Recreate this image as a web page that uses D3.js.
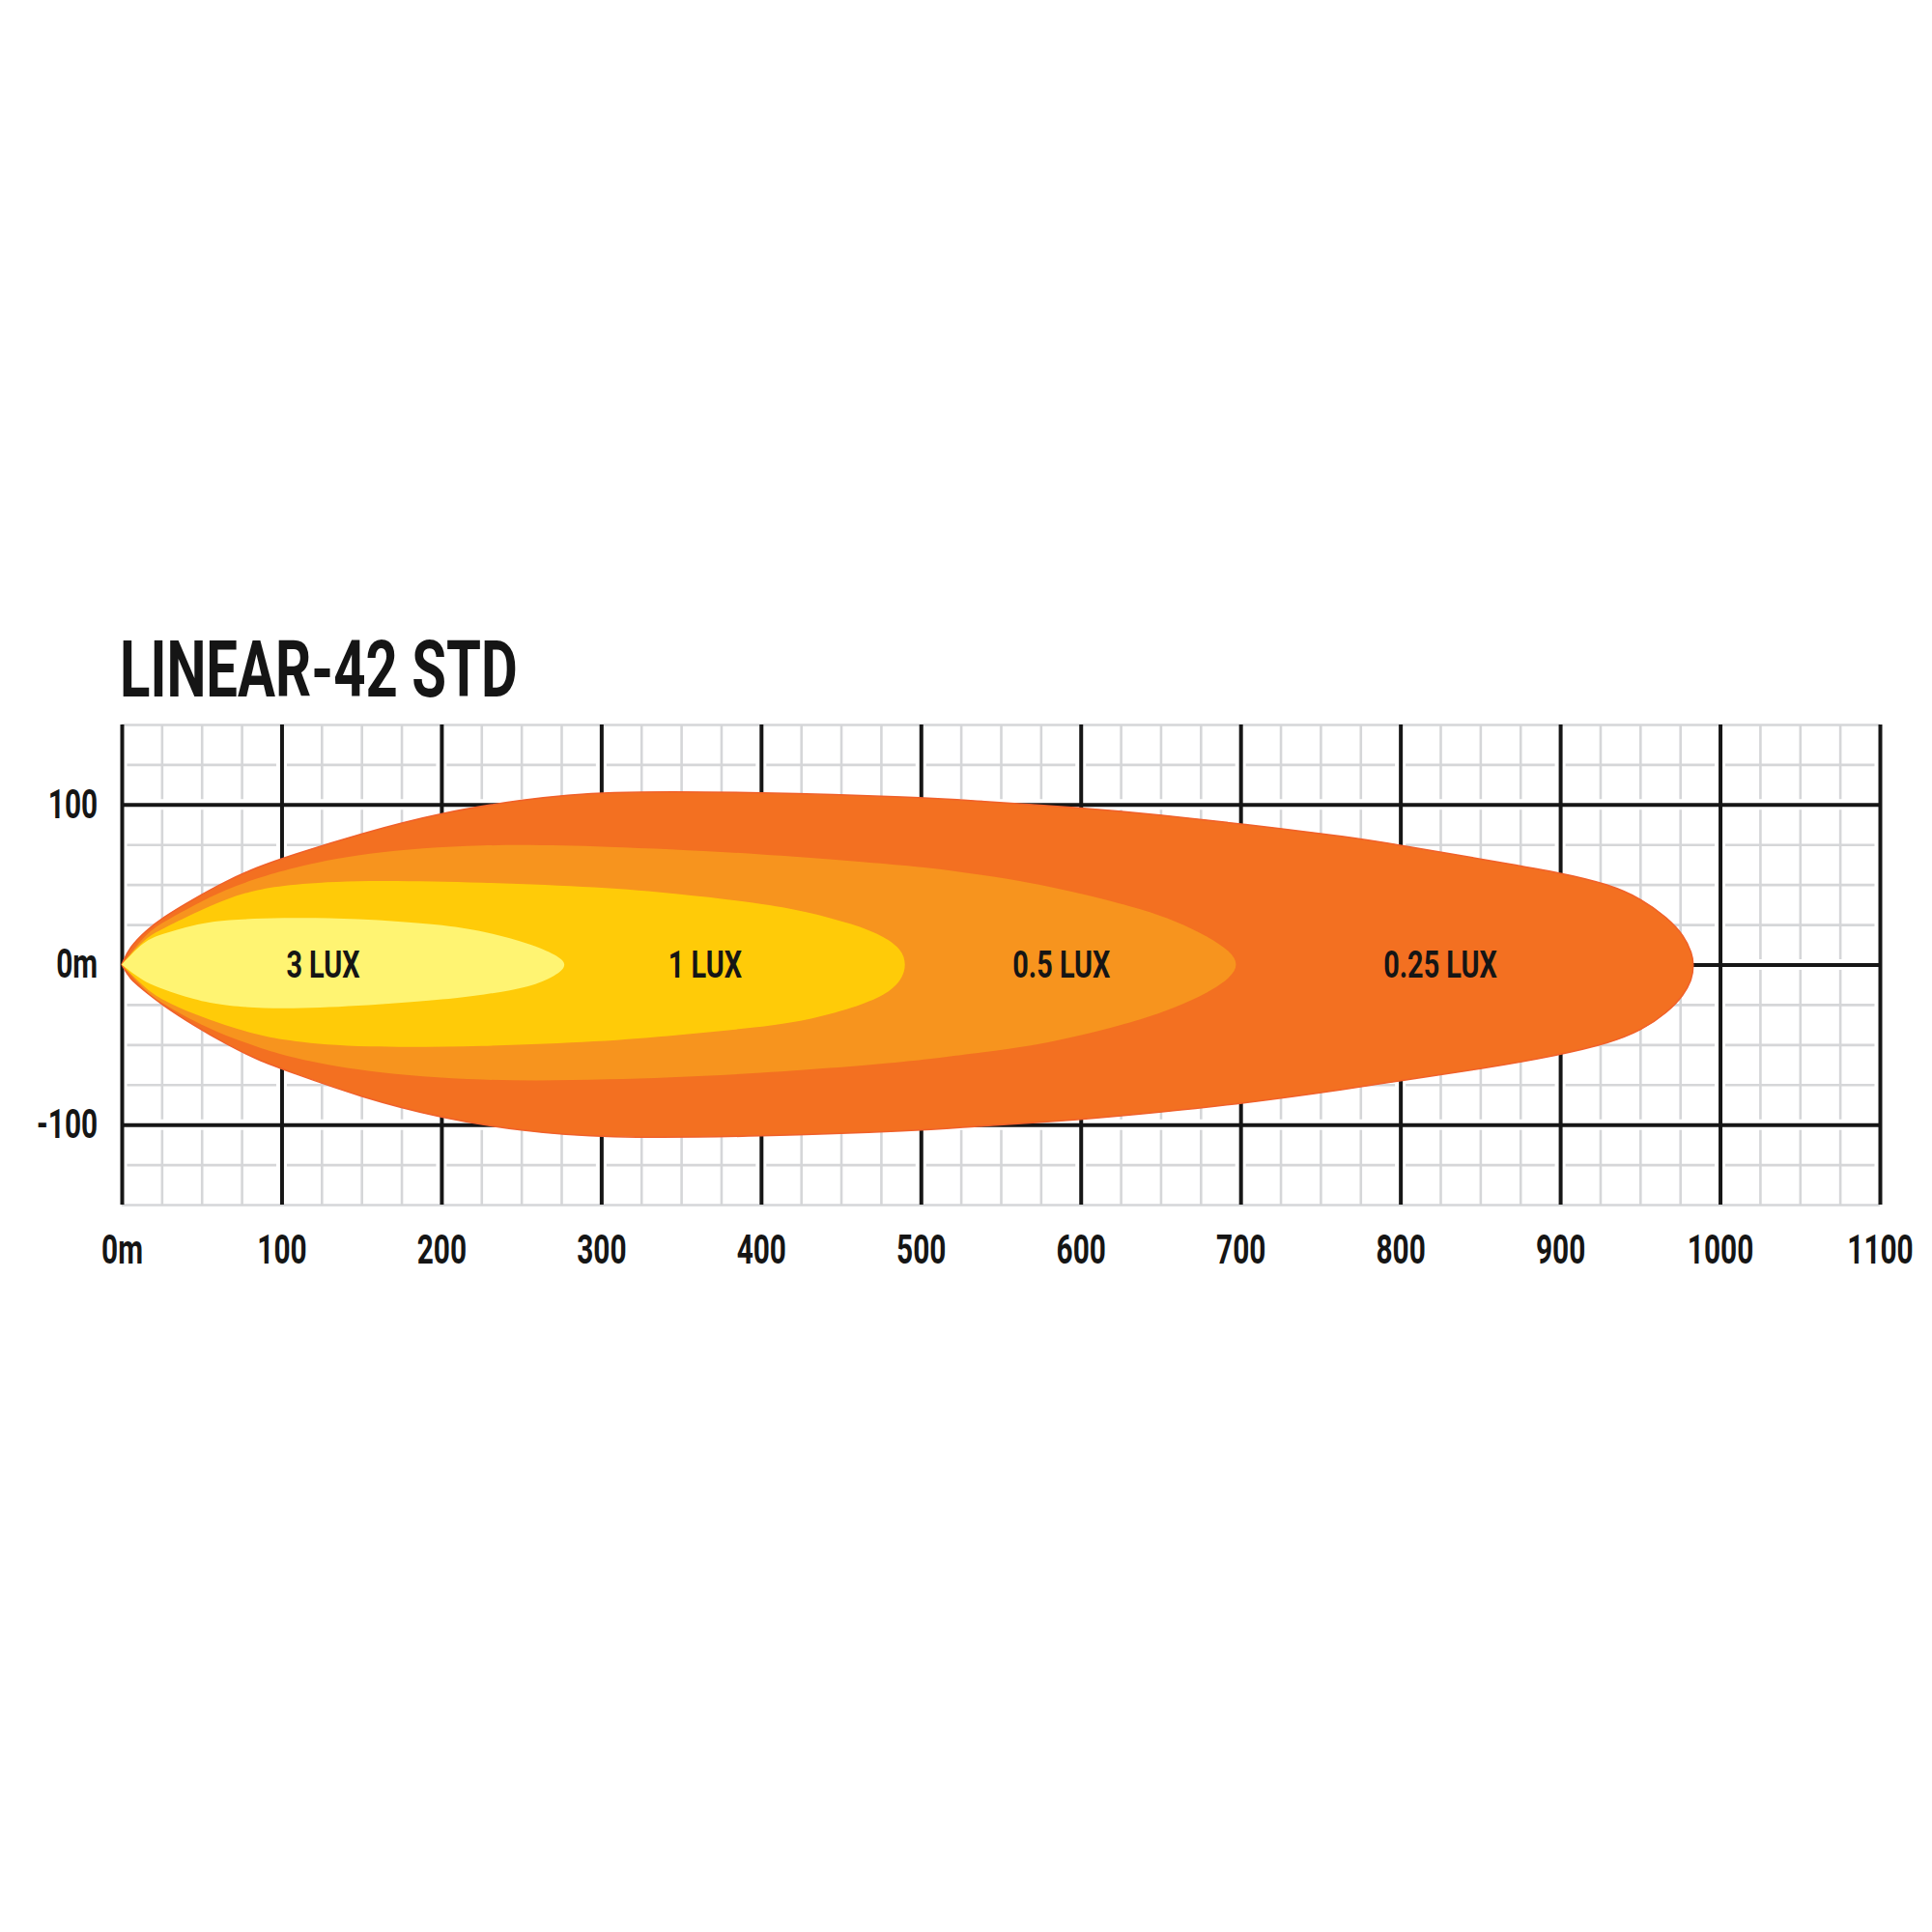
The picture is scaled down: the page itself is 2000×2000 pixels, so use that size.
<!DOCTYPE html>
<html>
<head>
<meta charset="utf-8">
<script src="https://cdn.jsdelivr.net/npm/d3@7"></script>
<style>
    body { margin: 0; background: #fff; }
    .txt { font-family: Roboto, "Liberation Sans", sans-serif; font-weight: 700; fill: #151515; }
</style>
</head>
<body>
<div id="chart"></div>
<script>
// axis ticks and labels
const xTicks = [0, 100, 200, 300, 400, 500, 600, 700, 800, 900, 1000, 1100];
const xTickLabels = ["0m", "100", "200", "300", "400", "500", "600", "700", "800", "900", "1000", "1100"];
const yTicks = [100, 0, -100];
const yTickLabels = ["100", "0m", "-100"];

// lux zones, outermost first
const luxNames = ["0.25 LUX", "0.5 LUX", "1 LUX", "3 LUX"];
const luxLabelDist = [825, 588, 365, 126];

// 0.25 lux outline (m ahead / m left (+) or right (-))
const lux025Dist = [0, 5, 15, 25, 45, 65, 85, 105, 150, 200, 250, 300, 400, 500, 528, 600, 649, 700, 770, 800, 850, 900, 931, 951, 967, 977.5, 982.5, 983.6];
const lux025Upper = [0, 11, 21, 29, 41, 52, 61, 68, 82, 95, 103, 108.5, 107.7, 104.5, 102.7, 98, 93.6, 88, 79.5, 74.5, 66, 57.5, 50, 41, 29.3, 18.2, 7, 0];
const lux025Lower = [0, -9, -17, -25, -38, -49.5, -59.6, -67, -83, -96, -104, -108.5, -107.5, -103.8, -101.5, -97, -92.4, -87, -77.3, -72.5, -65.3, -56.5, -49, -41.1, -30, -19, -9, 0];

// 0.5 lux outline
const lux05Dist = [0, 15, 25, 45, 65, 85, 105, 150, 226, 300, 400, 500, 528, 569, 609, 639, 659, 680, 694, 698.7];
const lux05Upper = [0, 19, 26, 37, 47, 54, 60, 70, 75.5, 74, 69.5, 61.3, 57.5, 51.4, 42.4, 34.3, 27.3, 17.5, 8, 0];
const lux05Lower = [0, -17, -24, -35.4, -44.5, -51.5, -58, -67, -73, -72.3, -68.3, -60.2, -56, -51.2, -42.2, -34.1, -27, -17.5, -8, 0];

// 1 lux outline
const lux1Dist = [0, 15, 25, 45, 65, 85, 105, 150, 226, 300, 347, 400, 428, 458, 478, 488, 491];
const lux1Upper = [0, 17, 22, 32, 41, 47, 50, 53, 51.4, 48.4, 44.4, 38.4, 33.3, 25.3, 17.2, 9.2, 0];
const lux1Lower = [0, -15, -22, -31, -38, -44, -48, -52, -51.2, -48.2, -44.2, -39.1, -35.1, -27, -19, -10, 0];

// 3 lux outline
const lux3Dist = [0, 14, 25, 45, 65, 100, 147, 200, 226, 256, 272, 279.4];
const lux3Upper = [0, 15, 19, 25, 28, 29.4, 29, 25, 21, 13, 6, 0];
const lux3Lower = [0, -11, -15, -22, -26, -28, -26, -22, -19, -14, -7, 0];

class BeamVis {

    constructor(parentElement) {
        this.parentElement = parentElement;
        this.zones = [
            {dist: lux025Dist, upper: lux025Upper, lower: lux025Lower, color: '#F37021'},
            {dist: lux05Dist, upper: lux05Upper, lower: lux05Lower, color: '#F7941E'},
            {dist: lux1Dist, upper: lux1Upper, lower: lux1Lower, color: '#FFCB08'},
            {dist: lux3Dist, upper: lux3Upper, lower: lux3Lower, color: '#FFF472'}
        ];
        this.initVis()
    }

    initVis() {
        let vis = this;

        vis.width = 2000;
        vis.height = 2000;

        vis.svg = d3.select("#" + vis.parentElement).append("svg")
            .attr("width", vis.width)
            .attr("height", vis.height)
            .style('background', '#fff');

        vis.x = d3.scaleLinear().domain([0, 1100]).range([126, 1946]);
        vis.y = d3.scaleLinear().domain([-150, 150]).range([1247, 750]);

        let plotW = vis.x(1100) - vis.x(0);
        let plotH = vis.y(-150) - vis.y(150);

        // minor grid, every 25 m
        vis.svg.append('g')
            .attr('class', 'minor-x')
            .attr('transform', `translate(0, ${vis.y(-150)})`)
            .call(d3.axisBottom(vis.x).tickValues(d3.range(0, 1101, 25)).tickSize(-plotH).tickFormat(''))
        vis.svg.append('g')
            .attr('class', 'minor-y')
            .attr('transform', `translate(${vis.x(0)}, 0)`)
            .call(d3.axisLeft(vis.y).tickValues(d3.range(-150, 151, 25)).tickSize(-plotW).tickFormat(''))
        vis.svg.selectAll('.minor-x, .minor-y').select('.domain').remove()
        vis.svg.selectAll('.minor-x line, .minor-y line')
            .attr('stroke', '#d5d6d8')
            .attr('stroke-width', 2.6)

        // white gaps around the major lines
        vis.svg.append('g').selectAll('line')
            .data(xTicks)
            .enter()
            .append('line')
            .attr('x1', d => vis.x(d))
            .attr('x2', d => vis.x(d))
            .attr('y1', vis.y(150) + 3)
            .attr('y2', vis.y(-150) - 3)
            .attr('stroke', '#fff')
            .attr('stroke-width', 11)
        vis.svg.append('g').selectAll('line')
            .data(yTicks)
            .enter()
            .append('line')
            .attr('x1', vis.x(0) + 3)
            .attr('x2', vis.x(1100) - 3)
            .attr('y1', d => vis.y(d))
            .attr('y2', d => vis.y(d))
            .attr('stroke', '#fff')
            .attr('stroke-width', 11)

        // major grid
        vis.svg.append('g')
            .attr('class', 'major-x')
            .attr('transform', `translate(0, ${vis.y(-150)})`)
            .call(d3.axisBottom(vis.x).tickValues(xTicks).tickSize(-plotH).tickFormat(''))
        vis.svg.append('g')
            .attr('class', 'major-y')
            .attr('transform', `translate(${vis.x(0)}, 0)`)
            .call(d3.axisLeft(vis.y).tickValues(yTicks).tickSize(-plotW).tickFormat(''))
        vis.svg.selectAll('.major-x, .major-y').select('.domain').remove()
        vis.svg.selectAll('.major-x line, .major-y line')
            .attr('stroke', '#161616')
            .attr('stroke-width', 4)

        // beam zones: upper edge out to the tip, lower edge back to the lamp
        let line = d3.line().curve(d3.curveBasis);
        vis.svg.append('g')
            .attr('class', 'beam')
            .selectAll('path')
            .data(vis.zones)
            .enter()
            .append('path')
            .attr('d', z => {
                let pts = z.dist.map((d, i) => [vis.x(d), vis.y(z.upper[i])]);
                for (let i = z.dist.length - 2; i >= 0; i--) {
                    pts.push([vis.x(z.dist[i]), vis.y(z.lower[i])]);
                }
                return line(pts) + 'Z';
            })
            .attr('fill', z => z.color)
            .attr('stroke', (z, i) => i == 0 ? '#F0602A' : 'none')
            .attr('stroke-width', 1.5)

        // zone labels
        vis.svg.append('g')
            .selectAll('text')
            .data(luxNames)
            .enter()
            .append('text')
            .attr('class', 'txt')
            .attr('text-anchor', 'middle')
            .attr('font-size', 39)
            .attr('transform', (d, i) => `translate(${vis.x(luxLabelDist[i])}, ${vis.y(0) + 13}) scale(0.74, 1)`)
            .text(d => d)

        // axis labels
        vis.svg.append('g')
            .attr('class', 'x-axis')
            .attr('transform', `translate(0, ${vis.y(-150)})`)
            .call(d3.axisBottom(vis.x).tickValues(xTicks).tickSize(0).tickPadding(31)
                .tickFormat((d, i) => xTickLabels[i]))
        vis.svg.append('g')
            .attr('class', 'y-axis')
            .attr('transform', `translate(${vis.x(0)}, 0)`)
            .call(d3.axisLeft(vis.y).tickValues(yTicks).tickSize(0).tickPadding(35)
                .tickFormat((d, i) => yTickLabels[i]))
        vis.svg.selectAll('.x-axis .domain, .y-axis .domain').remove()
        vis.svg.selectAll('.x-axis text, .y-axis text')
            .attr('class', 'txt')
            .attr('font-size', 42)
            .attr('transform', 'scale(0.71, 1)')

        // title
        vis.svg.append('text')
            .attr('class', 'txt')
            .attr('font-size', 81)
            .attr('transform', `translate(${vis.x(0) - 2}, 721) scale(0.717, 1)`)
            .text('LINEAR-42 STD')
    }
}

new BeamVis('chart');
</script>
</body>
</html>
